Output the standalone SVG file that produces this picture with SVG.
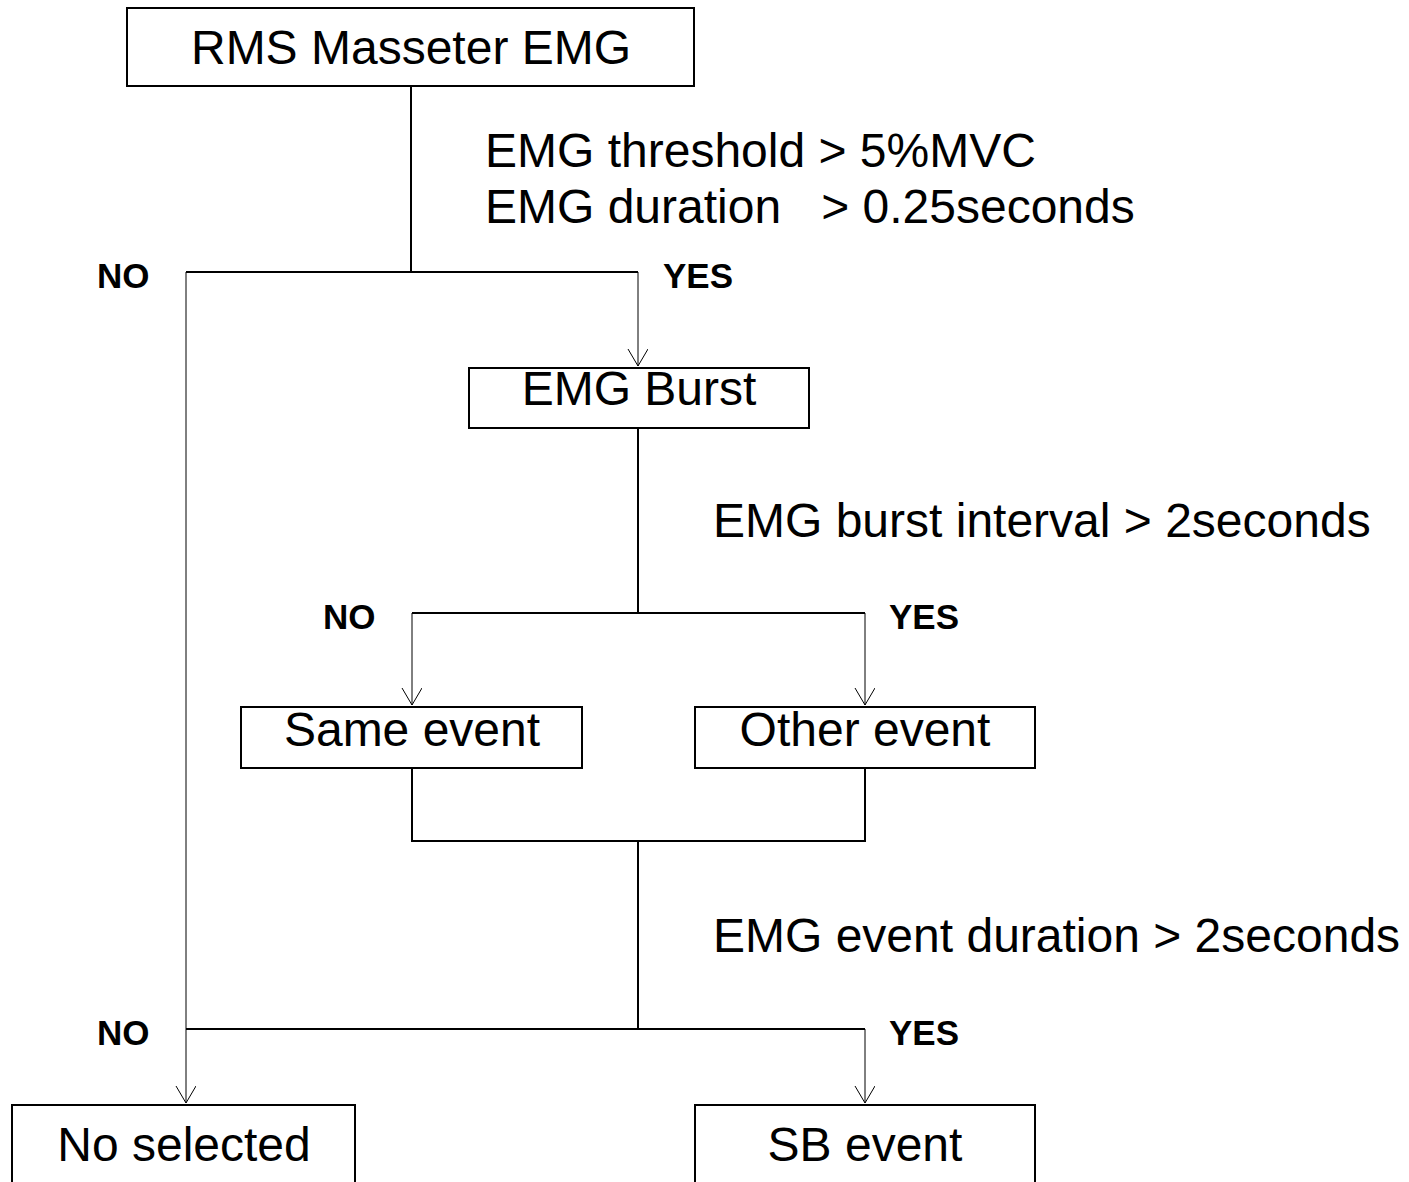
<svg xmlns="http://www.w3.org/2000/svg" width="1409" height="1182" viewBox="0 0 1409 1182">
  <style>
    .box { fill: #ffffff; stroke: #000000; stroke-width: 2; }
    .lbl { font-family: "Liberation Sans", Arial, sans-serif; font-size: 48px; fill: #000000; }
    .mid { text-anchor: middle; }
    .yn { font-family: "Liberation Sans", Arial, sans-serif; font-size: 35px; font-weight: bold; fill: #000000; }
    .wire { fill: none; stroke: #000000; stroke-width: 2; }
    .arrow { fill: none; stroke: #000000; stroke-width: 1; marker-end: url(#vhead); }
  </style>
  <defs>
    <!-- open V arrowhead, drawn along +x so orient="auto" turns it to the line direction -->
    <marker id="vhead" markerWidth="20" markerHeight="22" refX="17" refY="10" orient="auto" markerUnits="userSpaceOnUse" viewBox="0 0 20 22">
      <path d="M0,0 L17,10 L0,20" fill="none" stroke="#000000" stroke-width="1"/>
    </marker>
  </defs>
  <rect width="1409" height="1182" fill="#ffffff"/>

  <g id="connectors">
    <!-- first decision -->
    <line class="wire" x1="411" y1="86" x2="411" y2="272"/>
    <line class="wire" x1="186" y1="272" x2="638" y2="272"/>
    <line class="arrow" x1="638" y1="272" x2="638" y2="366"/>
    <line class="arrow" x1="186" y1="272" x2="186" y2="1103"/>
    <!-- second decision -->
    <line class="wire" x1="638" y1="428" x2="638" y2="613"/>
    <line class="wire" x1="412" y1="613" x2="865" y2="613"/>
    <line class="arrow" x1="412" y1="613" x2="412" y2="705"/>
    <line class="arrow" x1="865" y1="613" x2="865" y2="705"/>
    <!-- merge -->
    <polyline class="wire" points="412,768 412,841 865,841 865,768"/>
    <line class="wire" x1="638" y1="841" x2="638" y2="1029"/>
    <!-- third decision -->
    <line class="wire" x1="186" y1="1029" x2="865" y2="1029"/>
    <line class="arrow" x1="865" y1="1029" x2="865" y2="1103"/>
  </g>

  <g id="cond1">
    <text class="lbl" x="485" y="167">EMG threshold &gt; 5%MVC</text>
    <text class="lbl" x="485" y="223" xml:space="preserve">EMG duration   &gt; 0.25seconds</text>
    <text class="yn" x="97" y="288">NO</text>
    <text class="yn" x="663" y="288">YES</text>
  </g>
  <g id="cond2">
    <text class="lbl" x="713" y="537">EMG burst interval &gt; 2seconds</text>
    <text class="yn" x="323" y="629">NO</text>
    <text class="yn" x="889" y="629">YES</text>
  </g>
  <g id="cond3">
    <text class="lbl" x="713" y="952">EMG event duration &gt; 2seconds</text>
    <text class="yn" x="97" y="1045">NO</text>
    <text class="yn" x="889" y="1045">YES</text>
  </g>

  <g id="rms">
    <rect class="box" x="127" y="8" width="567" height="78"/>
    <text class="lbl mid" x="411" y="64">RMS Masseter EMG</text>
  </g>
  <g id="burst">
    <rect class="box" x="469" y="368" width="340" height="60"/>
    <text class="lbl mid" x="639" y="405">EMG Burst</text>
  </g>
  <g id="same">
    <rect class="box" x="241" y="707" width="341" height="61"/>
    <text class="lbl mid" x="412" y="746">Same event</text>
  </g>
  <g id="other">
    <rect class="box" x="695" y="707" width="340" height="61"/>
    <text class="lbl mid" x="865" y="746">Other event</text>
  </g>
  <g id="noselected">
    <rect class="box" x="12" y="1105" width="343" height="90"/>
    <text class="lbl mid" x="184" y="1161">No selected</text>
  </g>
  <g id="sbevent">
    <rect class="box" x="695" y="1105" width="340" height="90"/>
    <text class="lbl mid" x="865" y="1161">SB event</text>
  </g>
</svg>
